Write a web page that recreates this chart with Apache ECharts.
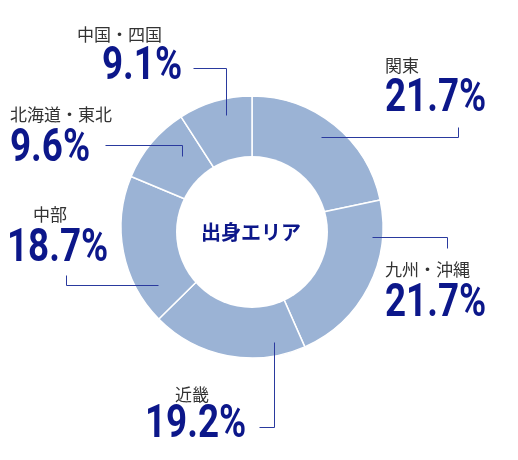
<!DOCTYPE html>
<html>
<head>
<meta charset="utf-8">
<style>
  html, body { margin: 0; padding: 0; background: #fff; }
  #chart { width: 518px; height: 460px; }
</style>
<script src="https://cdn.jsdelivr.net/npm/echarts@6/dist/echarts.min.js"></script>
</head>
<body>
<div id="chart"></div>
<script>
// データ
const areaNames = ['関東', '九州・沖縄', '近畿', '中部', '北海道・東北', '中国・四国']
const areaRates = [21.7, 21.7, 19.2, 18.7, 9.6, 9.1]
const centerTitle = '出身エリア'

// ラベル配置 [名前の左, 名前の中心y, 数値の左, 数値の中心y]
const labelPos = [
  [385, 66, 385, 99.5],
  [385, 269.5, 385, 304],
  [175, 394.5, 145, 425.5],
  [33, 215, 7, 249],
  [10, 115, 10, 149],
  [77, 35, 102, 67.5]
]
// 引き出し線
const leaderPts = [
  [[321, 137], [458, 137], [458, 127]],
  [[372, 237], [447, 237], [447, 248]],
  [[274, 342], [274, 427], [259, 427]],
  [[158, 285], [66, 285], [66, 275]],
  [[182, 156], [182, 145], [105, 145]],
  [[226, 115], [226, 68], [193, 68]]
]

const NAVY = '#0c178a'
const LINE = '#2a3a9e'
const numFont = 'Roboto, sans-serif'
const jpFont = '"Noto Sans CJK JP", sans-serif'

const chart = echarts.init(document.getElementById('chart'))

// ラベルと引き出し線
const labels = []
areaNames.forEach((name, i) => {
  const p = labelPos[i]
  labels.push({
    type: 'text',
    x: p[0],
    y: p[1],
    style: {
      text: name,
      fill: '#333',
      font: '17px ' + jpFont,
      textAlign: 'left',
      textVerticalAlign: 'middle'
    }
  })
  labels.push({
    type: 'text',
    x: p[2],
    y: p[3],
    scaleX: 0.8,
    style: {
      text: areaRates[i].toFixed(1) + '%',
      fill: NAVY,
      font: 'bold 46px ' + numFont,
      textAlign: 'left',
      textVerticalAlign: 'middle'
    }
  })
  labels.push({
    type: 'polyline',
    silent: true,
    z: 5,
    shape: { points: leaderPts[i].map(q => [q[0] + 0.5, q[1] + 0.5]) },
    style: { stroke: LINE, lineWidth: 1, fill: null }
  })
})

chart.setOption({
  animation: false,
  graphic: [{
    type: 'text',
    x: 251,
    y: 232,
    z: 10,
    style: {
      text: centerTitle,
      fill: NAVY,
      font: 'bold 20px ' + jpFont,
      textAlign: 'center',
      textVerticalAlign: 'middle'
    }
  }].concat(labels),
  series: [
    {
      type: 'pie',
      center: [252, 227],
      radius: [0, 131],
      startAngle: 90,
      clockwise: true,
      itemStyle: {
        color: '#9bb3d5',
        borderColor: '#fff',
        borderWidth: 1.5
      },
      emphasis: { disabled: true },
      label: { show: false },
      labelLine: { show: false },
      data: areaNames.map((name, i) => ({ name: name, value: areaRates[i] }))
    },
    {
      // 中央の白い円
      type: 'pie',
      center: [252, 232],
      radius: [0, 76],
      silent: true,
      label: { show: false },
      labelLine: { show: false },
      itemStyle: { color: '#fff' },
      data: [{ value: 1, name: '' }]
    }
  ]
})
</script>
</body>
</html>
